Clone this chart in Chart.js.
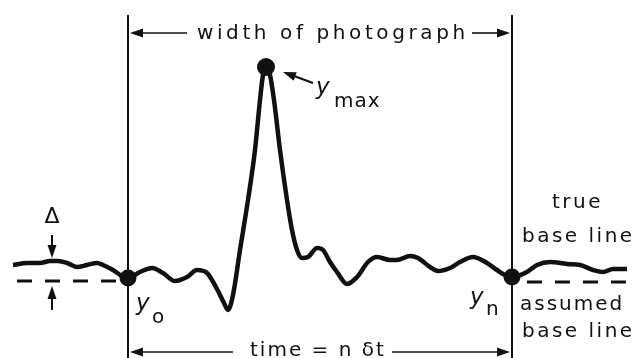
<!DOCTYPE html>
<html><head><meta charset="utf-8">
<script src="https://cdn.jsdelivr.net/npm/chart.js@4"></script>
<style>html,body{margin:0;padding:0;background:#fff}canvas{display:block}</style>
</head><body>
<canvas id="c" width="638" height="358"></canvas>
<script>
// time axis (arbitrary units) and signal amplitude above the assumed base line
const time = [13,27,40,50,58,67,77,87,97,103,113,122,128,140,152,163,175,187,197,207,217,224,228,233,240,248,255,260,263,266,270,274,280,287,292,297,302,308,317,323,330,337,347,357,368,377,390,397,410,418,430,438,450,460,473,487,497,505,512,527,537,550,567,580,593,603,613,627];
const amplitude = [16,18,18,20,20,18,14,16,18,16,11,5,3,9,13,8,0,4,11,8,-8,-22,-29,-14,31,81,131,181,206,214,206,181,131,81,51,31,23,24,33,31,19,9,-3,4,19,24,21,21,25,23,14,10,13,19,24,18,11,6,4,9,16,19,17,16,11,9,12,12];
// marked samples: y0 (start of photograph), ymax (peak), yn (end of photograph)
const markTime = [128, 266, 512];
const markAmp = [3, 214, 4];
const markLabels = ['o', 'max', 'n'];
const assumedBase = 0;

const ctxEl = document.getElementById('c');

const overlay = {
  id: 'overlay',
  beforeDatasetsDraw(chart) {
    const {ctx, scales: {x, y}} = chart;
    const X = v => x.getPixelForValue(v), Y = v => y.getPixelForValue(v);
    ctx.save();
    ctx.strokeStyle = '#111';
    ctx.lineWidth = 2;
    [markTime[0], markTime[2]].forEach(t => {
      ctx.beginPath(); ctx.moveTo(X(t), Y(266)); ctx.lineTo(X(t), Y(-77)); ctx.stroke();
    });
    ctx.lineWidth = 3;
    ctx.setLineDash([15, 13]);
    ctx.beginPath(); ctx.moveTo(X(17), Y(assumedBase)); ctx.lineTo(X(118), Y(assumedBase)); ctx.stroke();
    ctx.beginPath(); ctx.moveTo(X(527), Y(assumedBase - 1)); ctx.lineTo(X(628), Y(assumedBase - 1)); ctx.stroke();
    ctx.restore();
  },
  afterDatasetsDraw(chart) {
    const {ctx, scales: {x, y}} = chart;
    const X = v => x.getPixelForValue(v), Y = v => y.getPixelForValue(v);
    ctx.save();
    ctx.fillStyle = '#111'; ctx.strokeStyle = '#111';
    function arrow(x1, y1, x2, y2, w) {
      const px1 = X(x1), py1 = Y(y1), px2 = X(x2), py2 = Y(y2);
      const a = Math.atan2(py2 - py1, px2 - px1);
      const L = 13, H = 4.5;
      ctx.lineWidth = w || 1.6;
      ctx.beginPath(); ctx.moveTo(px1, py1);
      ctx.lineTo(px2 - Math.cos(a) * (L - 2), py2 - Math.sin(a) * (L - 2)); ctx.stroke();
      ctx.beginPath();
      ctx.moveTo(px2, py2);
      ctx.lineTo(px2 - L * Math.cos(a) + H * Math.sin(a), py2 - L * Math.sin(a) - H * Math.cos(a));
      ctx.lineTo(px2 - L * Math.cos(a) - H * Math.sin(a), py2 - L * Math.sin(a) + H * Math.cos(a));
      ctx.closePath(); ctx.fill();
    }
    arrow(187, 248, 130, 248);
    arrow(472, 248, 510, 248);
    arrow(233, -71, 130, -71);
    arrow(392, -71, 510, -71);
    arrow(52, 46, 52, 23, 2);
    arrow(52, -29, 52, -5, 2);
    arrow(313, 198, 283, 209, 2);

    function text(s, px, py, font, align, sp) {
      ctx.font = font; ctx.textAlign = align || 'left'; ctx.textBaseline = 'alphabetic';
      try { ctx.letterSpacing = (sp || 0) + 'px'; } catch (e) {}
      ctx.fillText(s, X(px), Y(py));
    }
    const F = '20px "DejaVu Sans"';
    text('width of photograph', 197, 242, F, 'left', 3.6);
    text('time = n \u03B4t', 250, -75, F, 'left', 2);
    text('true', 552, 73, F, 'left', 2.5);
    text('base line', 522, 39, F, 'left', 2.5);
    text('assumed', 520, -29, F, 'left', 2);
    text('base line', 522, -56, F, 'left', 2.5);
    text('\u0394', 52, 58, '22px "DejaVu Sans"', 'center', 0);
    const I = 'italic 23px "DejaVu Sans"', S = '20px "DejaVu Sans"';
    text('y', 136, -29, I, 'left', 0); text(markLabels[0], 152, -42, S, 'left', 0);
    text('y', 316, 187, I, 'left', 0); text(markLabels[1], 334, 174, S, 'left', 1);
    text('y', 470, -23, I, 'left', 0); text(markLabels[2], 486, -34, S, 'left', 0);
    ctx.restore();
  }
};

new Chart(ctxEl, {
  type: 'line',
  data: {
    datasets: [
      {
        data: time.map((t, i) => ({x: t, y: amplitude[i]})),
        borderColor: '#111', borderWidth: 4.5, pointRadius: 0,
        cubicInterpolationMode: 'monotone', fill: false, clip: false
      },
      {
        type: 'scatter',
        data: markTime.map((t, i) => ({x: t, y: markAmp[i]})),
        pointRadius: [8.5, 9, 8.5], backgroundColor: '#111', borderColor: '#111', pointBorderWidth: 0, clip: false
      }
    ]
  },
  options: {
    responsive: false, animation: false, devicePixelRatio: 1,
    layout: {padding: 0, autoPadding: false},
    plugins: {legend: {display: false}, tooltip: {enabled: false}},
    scales: {
      x: {type: 'linear', min: 0, max: 638, display: false},
      y: {type: 'linear', min: -77, max: 281, display: false}
    }
  },
  plugins: [overlay]
});
</script>
</body></html>
